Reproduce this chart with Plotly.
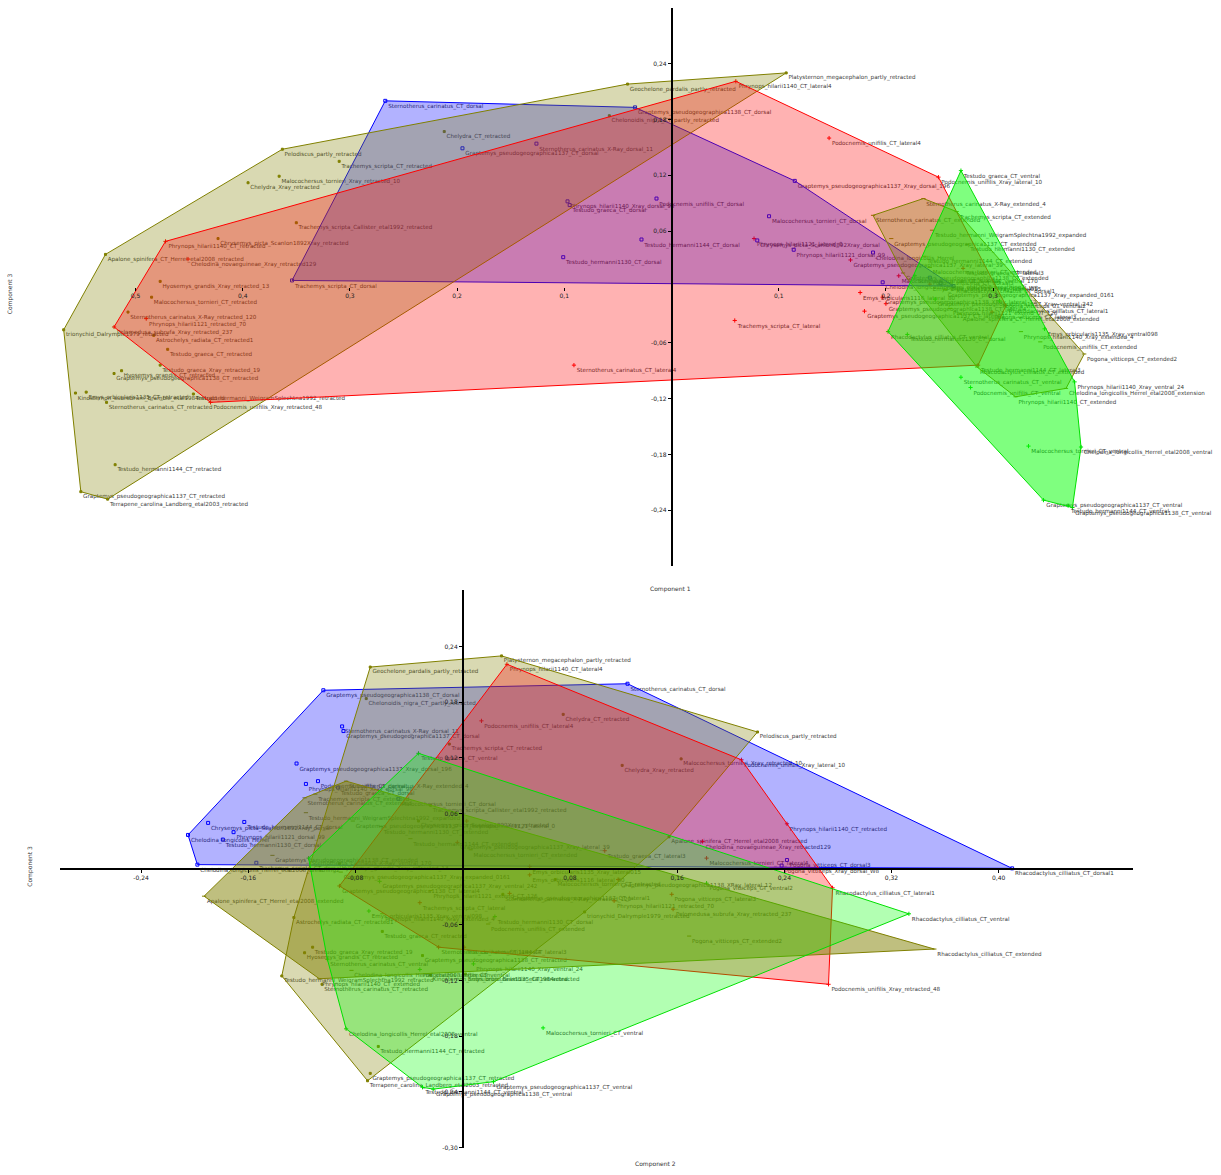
import plotly.graph_objects as go

# ---------------- data: PCA scores (Component 1, 2, 3) per specimen ----------------
RETRACTED_NAMES = [
    "Platysternon_megacephalon_partly_retracted", "Geochelone_pardalis_partly_retracted",
    "Chelonoidis_nigra_CT_partly_retracted", "Chelydra_CT_retracted", "Pelodiscus_partly_retracted",
    "Trachemys_scripta_CT_retracted", "Malocochersus_tornieri_Xray_retracted_10", "Chelydra_Xray_retracted",
    "Trachemys_scripta_Callister_etal1992_retracted", "Chrysemys_picta_Scanlon1892Xray_retracted",
    "Apalone_spinifera_CT_Herrel_etal2008_retracted", "Hyosemys_grandis_Xray_retracted_13",
    "Malocochersus_tornieri_CT_retracted", "Sternotherus_carinatus_X-Ray_retracted_120",
    "trionychid_Dalrymple1979_retracted", "Astrochelys_radiata_CT_retracted1", "Testudo_graeca_CT_retracted",
    "Testudo_graeca_Xray_retracted_19", "Hyosemys_grandis_CT_retracted",
    "Graptemys_pseudogeographica1138_CT_retracted", "Kinosternon_subrubrum_Bramble_etal1984retracted",
    "Emys_orbicularis1135_CT_retracted", "Sternotherus_carinatus_CT_retracted",
    "Testudo_hermanni_WeigramSplechtna1992_retracted", "Testudo_hermanni1144_CT_retracted",
    "Graptemys_pseudogeographica1137_CT_retracted", "Terrapene_carolina_Landberg_etal2003_retracted",
]
RETRACTED_PC1 = [0.107, -0.041, -0.058, -0.212, -0.363, -0.310, -0.366, -0.395, -0.350, -0.423, -0.528, -0.477,
                 -0.485, -0.507, -0.567, -0.483, -0.470, -0.477, -0.513, -0.520, -0.556, -0.546, -0.527, -0.446,
                 -0.519, -0.551, -0.526]
RETRACTED_PC2 = [0.029, -0.069, -0.072, 0.075, 0.220, -0.010, 0.163, 0.119, -0.024, -0.033, 0.154, -0.092,
                 0.069, 0.030, 0.091, -0.126, -0.060, -0.112, -0.118, -0.030, -0.024, 0.002, -0.105, -0.135,
                 -0.063, -0.069, -0.071]
RETRACTED_PC3 = [0.230, 0.218, 0.184, 0.167, 0.148, 0.135, 0.119, 0.112, 0.069, 0.052, 0.035, 0.006,
                 -0.011, -0.027, -0.046, -0.052, -0.067, -0.084, -0.090, -0.093, -0.114, -0.113, -0.124, -0.115,
                 -0.191, -0.220, -0.228]

LATERAL_NAMES = [
    "Phrynops_hilarii1140_CT_retracted", "Chelodina_novaeguineae_Xray_retracted129",
    "Phrynops_hilarii1121_retracted_70", "Pelomedusa_subrufa_Xray_retracted_237",
    "Podocnemis_unifilis_Xray_retracted_48", "Phrynops_hilarii1140_CT_lateral4", "Podocnemis_unifilis_CT_lateral4",
    "Podocnemis_unifilis_Xray_lateral_10", "Trachemys_scripta_CT_lateral", "Sternotherus_carinatus_CT_lateral4",
    "Phrynops_hilarii1121_lateral_0", "Graptemys_pseudogeographica1137_Xray_lateral_39",
    "Emys_orbicularis1116_lateral_80", "Graptemys_pseudogeographica1137_CT_lateral1",
    "Graptemys_pseudogeographica1138_CT_lateral4", "Graptemys_pseudogeographica1138_XRay_lateral_12",
    "Testudo_graeca_CT_lateral3", "Testudo_hermanni1144_CT_lateral3", "Malocochersus_tornieri_CT_lateral4",
    "Rhacodactylus_cilliatus_CT_lateral1", "Pogona_vitticeps_CT_lateral3", "Emys_orbicularis1135_Xray_lateral015",
]
LATERAL_PC1 = [-0.472, -0.451, -0.490, -0.520, -0.430, 0.060, 0.147, 0.249, 0.059, -0.091, 0.077, 0.167,
               0.176, 0.180, 0.200, 0.197, 0.272, 0.286, 0.212, 0.312, 0.299, 0.241]
LATERAL_PC2 = [0.242, 0.179, 0.113, 0.157, 0.273, 0.033, 0.014, 0.208, -0.032, -0.018, 0.003, -0.004,
               0.050, 0.035, -0.092, 0.116, 0.106, 0.001, 0.182, 0.276, 0.156, 0.050]
LATERAL_PC3 = [0.049, 0.030, -0.034, -0.043, -0.124, 0.221, 0.160, 0.118, -0.036, -0.084, 0.052, 0.029,
               -0.006, -0.026, -0.018, -0.011, 0.020, -0.084, 0.012, -0.020, -0.027, 0.003]

DORSAL_NAMES = [
    "Sternotherus_carinatus_CT_dorsal", "Graptemys_pseudogeographica1138_CT_dorsal",
    "Sternotherus_carinatus_X-Ray_dorsal_11", "Graptemys_pseudogeographica1137_CT_dorsal",
    "Graptemys_pseudogeographica1137_Xray_dorsal_196", "Phrynops_hilarii1140_Xray_dorsal_98",
    "Testudo_graeca_CT_dorsal", "Podocnemis_unifilis_CT_dorsal", "Malocochersus_tornieri_CT_dorsal",
    "Testudo_hermanni1144_CT_dorsal", "Chrysemys_picta_Scanlon1892Xray_dorsal", "Phrynops_hilarii1121_dorsal_99",
    "Chelodina_longicollis_Herrel", "Testudo_hermanni1130_CT_dorsal", "Trachemys_scripta_CT_dorsal",
    "Chelodina_longicollis_Herrel_etal2008_breathing2", "Rhacodactylus_cilliatus_CT_dorsal1",
    "Pogona_vitticeps_CT_dorsal3", "Pogona_vitticeps_Xray_dorsal_W8",
]
DORSAL_PC1 = [-0.267, -0.034, -0.126, -0.195, 0.115, -0.097, -0.095, -0.014, 0.091, -0.028, 0.080, 0.114,
              0.188, -0.101, -0.354, 0.197, 0.263, 0.241, 0.251]
DORSAL_PC2 = [0.123, -0.104, -0.090, -0.089, -0.124, -0.117, -0.093, -0.108, -0.048, -0.163, -0.190, -0.171,
              -0.205, -0.179, -0.154, -0.198, 0.410, 0.242, 0.238]
DORSAL_PC3 = [0.200, 0.193, 0.154, 0.149, 0.114, 0.092, 0.088, 0.095, 0.076, 0.051, 0.050, 0.040,
              0.037, 0.032, 0.007, 0.005, 0.001, 0.010, 0.004]

VENTRAL_NAMES = [
    "Testudo_graeca_CT_ventral", "Emys_orbicularis1135_Xray_ventral098", "Phrynops_hilarii1140_Xray_ventral_24",
    "Podocnemis_unifilis_CT_ventral", "Sternotherus_carinatus_CT_ventral", "Malocochersus_tornieri_CT_ventral",
    "Chelodina_longicollis_Herrel_etal2008_ventral", "Graptemys_pseudogeographica1137_CT_ventral",
    "Testudo_hermanni1144_CT_ventral", "Graptemys_pseudogeographica1138_CT_ventral",
    "Rhacodactylus_cilliatus_CT_ventral", "Testudo_hermanni1130_CT_dorsal", "Pogona_vitticeps_CT_ventral2",
    "Sternotherus_carinatus_X-Ray_ventral_170", "Graptemys_pseudogeographica1137_Xray_ventral_242",
]
VENTRAL_PC1 = [0.270, 0.348, 0.376, 0.279, 0.270, 0.333, 0.382, 0.347, 0.370, 0.374, 0.202, 0.220, 0.306,
               0.227, 0.246]
VENTRAL_PC2 = [-0.033, -0.070, 0.008, -0.032, -0.101, 0.060, -0.087, 0.023, -0.030, -0.022, 0.333, 0.024,
               0.182, -0.115, -0.062]
VENTRAL_PC3 = [0.125, -0.045, -0.102, -0.108, -0.097, -0.171, -0.172, -0.229, -0.235, -0.237, -0.048, -0.051,
               -0.015, 0.012, -0.013]

EXTENDED_NAMES = [
    "Sternotherus_carinatus_CT_extended", "Sternotherus_carinatus_X-Ray_extended_4", "Trachemys_scripta_CT_extended",
    "Testudo_hermanni_WeigramSplechtna1992_expanded", "Graptemys_pseudogeographica1137_CT_extended",
    "Testudo_hermanni1130_CT_extended", "Testudo_hermanni1144_CT_extended",
    "Graptemys_pseudogeographica1138_CT_extended", "Phrynops_hilarii1140_Xray_extended_4",
    "Podocnemis_unifilis_CT_extended", "Pogona_vitticeps_CT_extended2", "Rhacodactylus_cilliatus_CT_extended",
    "Chelodina_longicollis_Herrel_etal2008_extension", "Phrynops_hilarii1140_CT_extended",
    "Apalone_spinifera_CT_Herrel_etal2008_extended", "Graptemys_pseudogeographica1137_Xray_expanded_0161",
    "Phrynops_hilarii1121_extend_CT_126", "Malocochersus_tornieri_CT_extended",
]
EXTENDED_PC1 = [0.188, 0.235, 0.266, 0.243, 0.205, 0.276, 0.236, 0.216, 0.326, 0.344, 0.385, 0.285, 0.368,
                0.321, 0.269, 0.255, 0.260, 0.241]
EXTENDED_PC2 = [-0.118, -0.087, -0.110, -0.117, -0.082, -0.061, -0.039, -0.142, -0.060, 0.019, 0.169, 0.352,
                -0.083, -0.107, -0.193, -0.091, -0.024, 0.006]
EXTENDED_PC3 = [0.077, 0.095, 0.081, 0.061, 0.052, 0.046, 0.033, 0.015, -0.048, -0.059, -0.072, -0.086,
                -0.109, -0.118, -0.029, -0.003, -0.023, 0.021]

# axis ticks (decimal comma labels as printed)
C1_TICKS = [-0.5, -0.4, -0.3, -0.2, -0.1, 0.1, 0.2, 0.3]
C1_TICKTEXT = ["0,5", "0,4", "0,3", "0,2", "0,1", "0,1", "0,2", "0,3"]
C2_TICKS = [-0.24, -0.16, -0.08, 0.08, 0.16, 0.24, 0.32, 0.40]
C2_TICKTEXT = ["-0,24", "-0,16", "-0,08", "0,08", "0,16", "0,24", "0,32", "0,40"]
C3_TICKS = [0.24, 0.18, 0.12, 0.06, -0.06, -0.12, -0.18, -0.24, -0.30]
C3_TICKTEXT = ["0,24", "0,18", "0,12", "0,06", "-0,06", "-0,12", "-0,18", "-0,24", "-0,30"]

# ---------------- styling ----------------
GROUPS = [
    # key, names, pc1, pc2, pc3
    ("dorsal", DORSAL_NAMES, DORSAL_PC1, DORSAL_PC2, DORSAL_PC3),
    ("retracted", RETRACTED_NAMES, RETRACTED_PC1, RETRACTED_PC2, RETRACTED_PC3),
    ("lateral", LATERAL_NAMES, LATERAL_PC1, LATERAL_PC2, LATERAL_PC3),
    ("extended", EXTENDED_NAMES, EXTENDED_PC1, EXTENDED_PC2, EXTENDED_PC3),
    ("ventral", VENTRAL_NAMES, VENTRAL_PC1, VENTRAL_PC2, VENTRAL_PC3),
]
STYLE = {
    "dorsal":    dict(rgb=(0, 0, 255), line="#0000ff", symbol="square-open", msize=3),
    "retracted": dict(rgb=(128, 128, 0), line="#808000", symbol="square", msize=2),
    "lateral":   dict(rgb=(255, 0, 0), line="#ff0000", symbol="cross-thin-open", msize=3),
    "extended":  dict(rgb=(128, 128, 0), line="#808000", symbol="line-ew-open", msize=3),
    "ventral":   dict(rgb=(0, 255, 0), line="#00e000", symbol="cross-thin-open", msize=3),
}
# fill opacity of the hulls in each panel
TOP_ALPHA = {"dorsal": 0.3, "retracted": 0.3, "lateral": 0.3, "extended": 0.3, "ventral": 0.5}
BOTTOM_ALPHA = {"dorsal": 0.3, "retracted": 0.3, "lateral": 0.3, "extended": 0.5, "ventral": 0.3}

LABEL_FONT = dict(family="DejaVu Sans", size=5.6, color="#3a3a3a")
TICK_FONT = dict(family="DejaVu Sans", size=6, color="#222222")

W, H = 1221, 1175


def convex_hull(xs, ys):
    pts = sorted(set(zip(xs, ys)))
    if len(pts) < 3:
        return pts

    def cross(o, a, b):
        return (a[0] - o[0]) * (b[1] - o[1]) - (a[1] - o[1]) * (b[0] - o[0])

    lower, upper = [], []
    for p in pts:
        while len(lower) >= 2 and cross(lower[-2], lower[-1], p) <= 0:
            lower.pop()
        lower.append(p)
    for p in reversed(pts):
        while len(upper) >= 2 and cross(upper[-2], upper[-1], p) <= 0:
            upper.pop()
        upper.append(p)
    hull = lower[:-1] + upper[:-1]
    return hull + [hull[0]]


fig = go.Figure()

panels = [
    # (x-values index, xaxis, yaxis, alpha table)
    (2, "x", "y", TOP_ALPHA),      # Component 1 vs Component 3
    (3, "x2", "y2", BOTTOM_ALPHA),  # Component 2 vs Component 3
]

# specimen markers and names (drawn first so the translucent hulls tint them)
for xi, xa, ya, _ in panels:
    for key, names, pc1, pc2, pc3 in GROUPS:
        st = STYLE[key]
        xs = pc1 if xi == 2 else pc2
        fig.add_trace(go.Scatter(
            x=xs, y=pc3, xaxis=xa, yaxis=ya, mode="markers+text",
            text=names, textposition="bottom right", textfont=LABEL_FONT,
            marker=dict(symbol=st["symbol"], size=st["msize"], color=st["line"],
                        line=dict(color=st["line"], width=1)),
            cliponaxis=False, hoverinfo="text", showlegend=False,
        ))

# convex hulls per group
for xi, xa, ya, alpha in panels:
    for key, names, pc1, pc2, pc3 in GROUPS:
        st = STYLE[key]
        xs = pc1 if xi == 2 else pc2
        hull = convex_hull(xs, pc3)
        r, g, b = st["rgb"]
        fig.add_trace(go.Scatter(
            x=[p[0] for p in hull], y=[p[1] for p in hull], xaxis=xa, yaxis=ya,
            mode="lines", fill="toself", fillcolor=f"rgba({r},{g},{b},{alpha[key]})",
            line=dict(color=st["line"], width=1), hoverinfo="skip", showlegend=False,
        ))


def px_x(p):
    return p / W


def px_y(p):
    return 1 - p / H


common = dict(showgrid=False, zeroline=False, ticks="outside", ticklen=3, tickwidth=1,
              tickcolor="#000000", tickfont=TICK_FONT, fixedrange=True)

# top panel: Component 1 (x) vs Component 3 (y), axes crossing at the origin
top_x0, top_x1 = -671.5 / 1072, (W - 671.5) / 1072
top_y_lo, top_y_hi = (287.7 - 567) / 933, (287.7 - 8) / 933
# bottom panel: Component 2 (x) vs Component 3 (y)
bot_x_lo, bot_x_hi = (60 - 462.7) / 1340, (1133 - 462.7) / 1340
bot_y_lo, bot_y_hi = (871.5 - 1151) / 930, (871.5 - 592) / 930

fig.update_layout(
    width=W, height=H, margin=dict(l=0, r=0, t=0, b=0),
    paper_bgcolor="white", plot_bgcolor="rgba(0,0,0,0)", showlegend=False,
    xaxis=dict(domain=[0, 1], range=[top_x0, top_x1], anchor="free", position=px_y(287.7),
               showline=False, tickvals=C1_TICKS, ticktext=C1_TICKTEXT, **common),
    yaxis=dict(domain=[px_y(567), px_y(8)], range=[top_y_lo, top_y_hi], anchor="free",
               position=px_x(671.5), showline=True, linecolor="#000000", linewidth=1.5,
               tickvals=C3_TICKS, ticktext=C3_TICKTEXT, **common),
    xaxis2=dict(domain=[px_x(60), px_x(1133)], range=[bot_x_lo, bot_x_hi], anchor="free",
                position=px_y(871.5), showline=True, linecolor="#000000", linewidth=1.5,
                tickvals=C2_TICKS, ticktext=C2_TICKTEXT, **common),
    yaxis2=dict(domain=[px_y(1151), px_y(592)], range=[bot_y_lo, bot_y_hi], anchor="free",
                position=px_x(462.7), showline=True, linecolor="#000000", linewidth=1.5,
                tickvals=C3_TICKS, ticktext=C3_TICKTEXT, **common),
)

title_font = dict(family="DejaVu Sans", size=6, color="#333333")
for text, x, y, ang in [
    ("Component 1", 670, 591, 0),
    ("Component 3", 10, 295, -90),
    ("Component 2", 655, 1167, 0),
    ("Component 3", 30, 868, -90),
]:
    fig.add_annotation(text=text, x=px_x(x), y=px_y(y), xref="paper", yref="paper",
                       showarrow=False, textangle=ang, font=title_font,
                       xanchor="center", yanchor="middle")

fig.write_html("out.html")
